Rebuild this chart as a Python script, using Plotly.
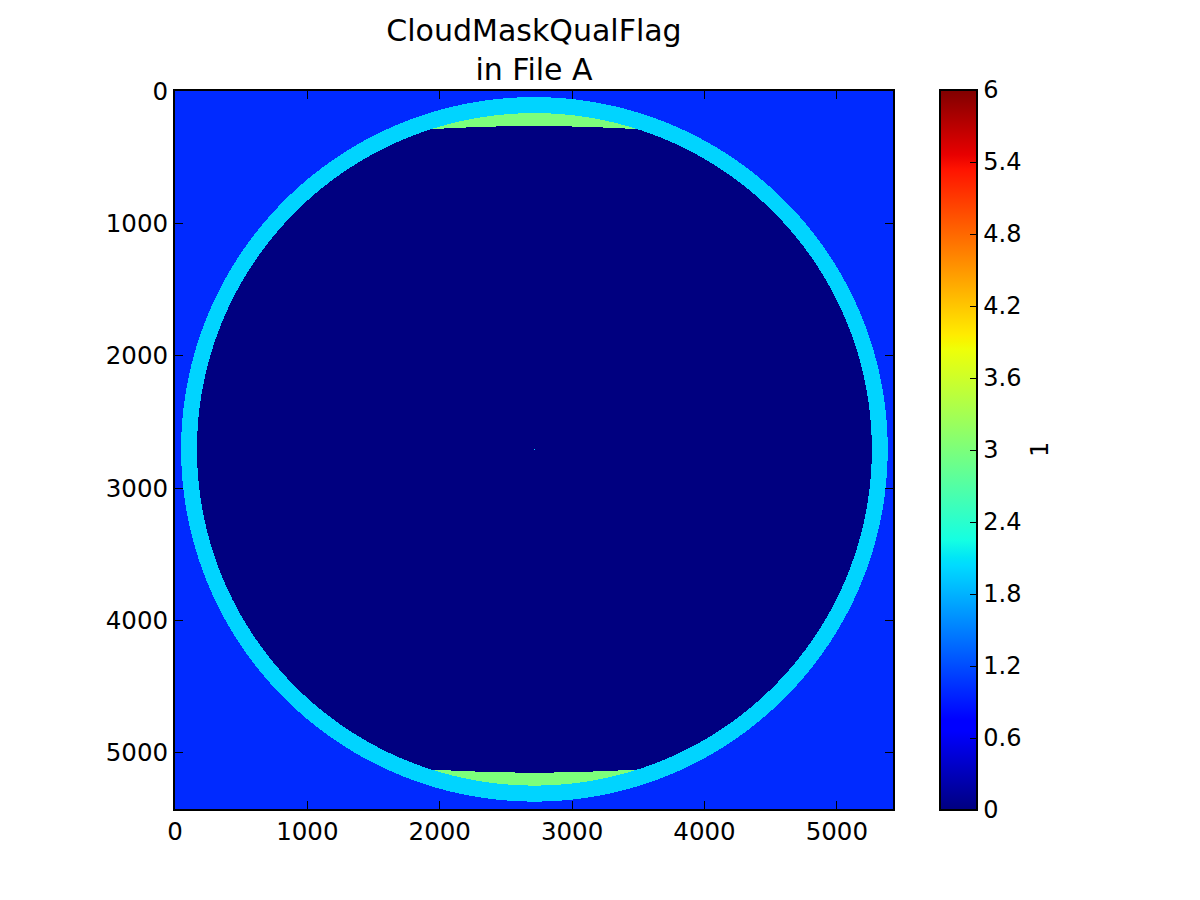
import numpy as np
import plotly.graph_objects as go

# Class values seen in the picture
SPACE_VALUE = 1
LIMB_VALUE = 2
DISC_VALUE = 0
CAP_VALUE = 3
CENTRE_VALUE = 2

# Geometry, in data units
EXTENT = 5424
CENTRE_X, CENTRE_Y = 2715, 2707
OUTER_RX, OUTER_RY = 2669, 2661
INNER_RX, INNER_RY = 2549, 2540
CAP_EDGE_DX = [0, 250, 500, 770, 900]
CAP_EDGE_DY = [2443, 2440, 2432, 2420, 2408]

TITLE = "CloudMaskQualFlag<br>in File A"
X_TICKS = [0, 1000, 2000, 3000, 4000, 5000]
Y_TICKS = [0, 1000, 2000, 3000, 4000, 5000]
CBAR_TICKS = [0, 0.6, 1.2, 1.8, 2.4, 3, 3.6, 4.2, 4.8, 5.4, 6]
CBAR_LABELS = ["0", "0.6", "1.2", "1.8", "2.4", "3", "3.6", "4.2", "4.8", "5.4", "6"]
CBAR_TITLE = "1"

# matplotlib "jet" breakpoints
JET_R = [(0, 0), (0.35, 0), (0.66, 1), (0.89, 1), (1, 0.5)]
JET_G = [(0, 0), (0.125, 0), (0.375, 1), (0.64, 1), (0.91, 0), (1, 0)]
JET_B = [(0, 0.5), (0.11, 1), (0.34, 1), (0.65, 0), (1, 0)]

stops = sorted({p[0] for c in (JET_R, JET_G, JET_B) for p in c})
def chan(c, s):
    return int(round(255 * np.interp(s, [p[0] for p in c], [p[1] for p in c])))
jet = [[s, f"rgb({chan(JET_R, s)},{chan(JET_G, s)},{chan(JET_B, s)})"] for s in stops]

N = 718
dx = EXTENT / N
centres = (np.arange(N) + 0.5) * dx
X, Y = np.meshgrid(centres, centres)
ox, oy = X - CENTRE_X, Y - CENTRE_Y
outer = (ox / OUTER_RX) ** 2 + (oy / OUTER_RY) ** 2 <= 1
inner = (ox / INNER_RX) ** 2 + (oy / INNER_RY) ** 2 <= 1
cap = inner & (np.abs(oy) > np.interp(np.abs(ox), CAP_EDGE_DX, CAP_EDGE_DY))

z = np.full((N, N), SPACE_VALUE, dtype=np.int8)
z[outer] = LIMB_VALUE
z[inner] = DISC_VALUE
z[cap] = CAP_VALUE
z[int(CENTRE_Y / dx), int(CENTRE_X / dx)] = CENTRE_VALUE

FONT = "DejaVu Sans"
fig = go.Figure(go.Heatmap(
    z=z, x0=dx / 2, dx=dx, y0=dx / 2, dy=dx,
    zmin=0, zmax=6, colorscale=jet, hoverinfo="skip",
    colorbar=dict(
        thickness=37, thicknessmode="pixels",
        len=720 / 718, lenmode="fraction",
        x=(940 - 175) / 718, xanchor="left", xref="paper",
        y=0.5, yanchor="middle", yref="paper", ypad=0, xpad=0,
        outlinecolor="black", outlinewidth=2,
        ticks="inside", ticklen=8, tickwidth=1, tickcolor="black",
        tickvals=CBAR_TICKS, ticktext=CBAR_LABELS,
        tickfont=dict(family=FONT, size=24, color="black"),
    ),
))

axis = dict(
    showgrid=False, zeroline=False, showline=True, mirror="ticks",
    linecolor="black", linewidth=2,
    ticks="inside", ticklen=8, tickwidth=1, tickcolor="black",
    tickfont=dict(family=FONT, size=24.5, color="black"),
    layer="above traces",
)
fig.update_layout(
    width=1200, height=900, autosize=False,
    paper_bgcolor="white", plot_bgcolor="white",
    margin=dict(l=175, r=307, t=91, b=91, pad=0),
    title=dict(text=TITLE, x=534 / 1200, xref="container", xanchor="center",
               y=1 - 41 / 900, yref="container", yanchor="top",
               font=dict(family=FONT, size=30, color="black")),
    xaxis=dict(axis, range=[0, EXTENT], tickvals=X_TICKS),
    yaxis=dict(axis, range=[EXTENT, 0], tickvals=Y_TICKS),
    annotations=[dict(
        text=CBAR_TITLE, textangle=-90, showarrow=False,
        xref="paper", yref="paper", xanchor="center", yanchor="middle",
        x=(1040 - 175) / 718, y=0.5,
        font=dict(family=FONT, size=24, color="black"),
    )],
)
fig.write_html(
    "out.html",
    config={"displayModeBar": False},
    post_script="document.body.style.margin='0';window.dispatchEvent(new Event('resize'));",
)
